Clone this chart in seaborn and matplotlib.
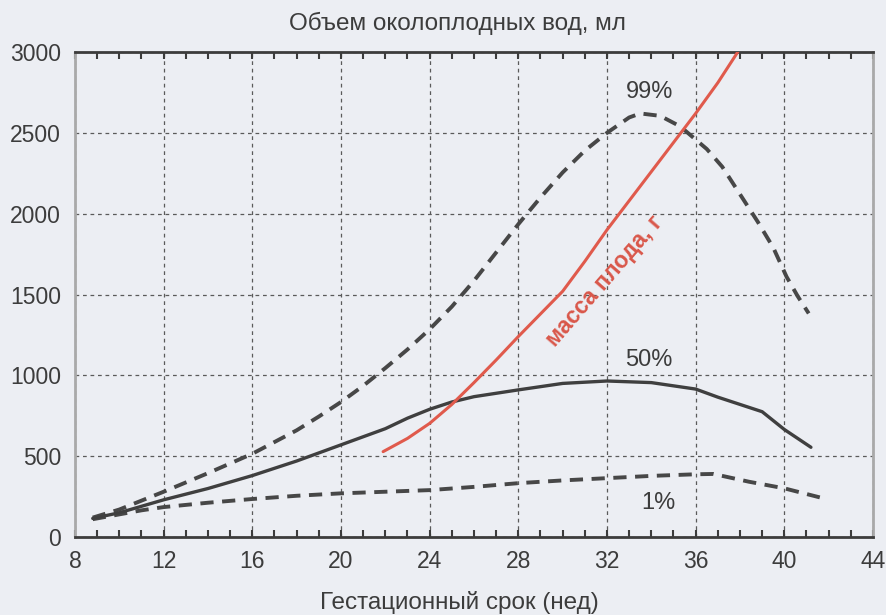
import matplotlib
matplotlib.use("Agg")
import matplotlib.pyplot as plt
import seaborn as sns
import pandas as pd
from matplotlib.ticker import MultipleLocator

# Amniotic fluid volume percentiles (ml) by gestational age (weeks)
p99_weeks = [8.8, 10, 11, 12, 14, 16, 18, 19, 20, 21, 22, 23, 24, 25, 26, 27, 28, 29, 30, 31, 32, 33,
             33.5, 34.4, 35.3, 36.5, 37.2, 38, 38.8, 39.5, 40.1, 40.6, 41.1]
p99_vol = [120, 170, 225, 280, 395, 515, 660, 745, 835, 935, 1045, 1160, 1285, 1425, 1585, 1760, 1935, 2100,
           2255, 2390, 2500, 2595, 2620, 2605, 2540, 2400, 2290, 2120, 1950, 1790, 1610, 1490, 1383]

p50_weeks = [8.8, 10, 11, 12, 14, 16, 18, 20, 21, 22, 23, 24, 25, 26, 28, 30, 32, 34, 36, 37, 38, 39, 40, 41.2]
p50_vol = [115, 150, 190, 230, 300, 380, 470, 570, 620, 670, 735, 790, 835, 868, 910, 950, 965, 955, 915,
           865, 820, 775, 665, 555]

p1_weeks = [8.8, 10, 11, 12, 14, 16, 18, 20, 22, 24, 26, 28, 30, 32, 34, 36, 36.8, 38.4, 40, 41.6]
p1_vol = [110, 140, 165, 185, 212, 235, 255, 270, 280, 290, 310, 333, 350, 364, 378, 388, 390, 342, 301, 245]

# Fetal weight (g)
fw_weeks = [21.9, 23, 24, 25, 26, 27, 28, 29, 30, 31, 32, 33, 34, 35, 36, 37, 37.9]
fw_mass = [528, 610, 703, 820, 955, 1095, 1240, 1380, 1520, 1705, 1900, 2080, 2260, 2440, 2620, 2810, 3000]

x_ticks = [8, 12, 16, 20, 24, 28, 32, 36, 40, 44]
y_ticks = [0, 500, 1000, 1500, 2000, 2500, 3000]

sns.set_theme(style="white")
plt.rcParams["font.family"] = ["Liberation Sans", "DejaVu Sans"]

bg = "#eceef3"
ink = "#3c3c3c"
fig = plt.figure(figsize=(8.87, 6.15), dpi=100, facecolor=bg)
ax = fig.add_axes([75 / 887, 1 - 537 / 615, 798 / 887, 485 / 615])
ax.set_facecolor(bg)

dash = (0, (3.4, 2.2))
line_dark = "#474747"

sns.lineplot(data=pd.DataFrame({"w": p99_weeks, "v": p99_vol}), x="w", y="v", ax=ax, sort=False,
             estimator=None, color=line_dark, lw=2.8, linestyle=dash, zorder=4)
sns.lineplot(data=pd.DataFrame({"w": p1_weeks, "v": p1_vol}), x="w", y="v", ax=ax, sort=False,
             estimator=None, color=line_dark, lw=2.8, linestyle=dash, zorder=4)
sns.lineplot(data=pd.DataFrame({"w": p50_weeks, "v": p50_vol}), x="w", y="v", ax=ax, sort=False,
             estimator=None, color="#3f3f3f", lw=2.4, zorder=4)
sns.lineplot(data=pd.DataFrame({"w": fw_weeks, "m": fw_mass}), x="w", y="m", ax=ax, sort=False,
             estimator=None, color="#e05a4c", lw=2.2, zorder=5, clip_on=True)

ax.set_xlim(8, 44)
ax.set_ylim(0, 3000)
ax.set_xticks(x_ticks)
ax.set_yticks(y_ticks)
ax.xaxis.set_minor_locator(MultipleLocator(1))
ax.set_xlabel("")
ax.set_ylabel("")

ax.grid(True, which="major", axis="both", color="#5a5a5a", lw=0.9, linestyle=(0, (3, 3)))
ax.set_axisbelow(True)

ax.tick_params(axis="x", which="both", direction="in", top=True, bottom=True, length=5, width=1.5,
               color=ink, labelsize=16.5, labelcolor=ink, pad=9)
ax.tick_params(axis="y", which="both", left=False, right=False, length=0, labelsize=16.5,
               labelcolor=ink, pad=10)

for side in ("top", "bottom"):
    ax.spines[side].set_color(ink)
    ax.spines[side].set_linewidth(2)
for side in ("left", "right"):
    ax.spines[side].set_color("#a9a9a9")
    ax.spines[side].set_linewidth(2)

ax.text(33.9, 2752, "99%", ha="center", va="center", fontsize=17, color=ink)
ax.text(33.9, 1095, "50%", ha="center", va="center", fontsize=17, color=ink)
ax.text(34.3, 210, "1%", ha="center", va="center", fontsize=17, color=ink)
ax.text(31.9, 1585, "масса плода, г", ha="center", va="center", rotation=49,
        rotation_mode="anchor", fontsize=16.5, fontweight="bold", color="#d9574a")

fig.text(457 / 887, 1 - 23 / 615, "Объем околоплодных вод, мл", ha="center", va="center",
         fontsize=17.5, color=ink)
fig.text(459 / 887, 1 - 603 / 615, "Гестационный срок (нед)", ha="center", va="center",
         fontsize=17.5, color=ink)

fig.savefig("out.png", dpi=100, facecolor=bg)
